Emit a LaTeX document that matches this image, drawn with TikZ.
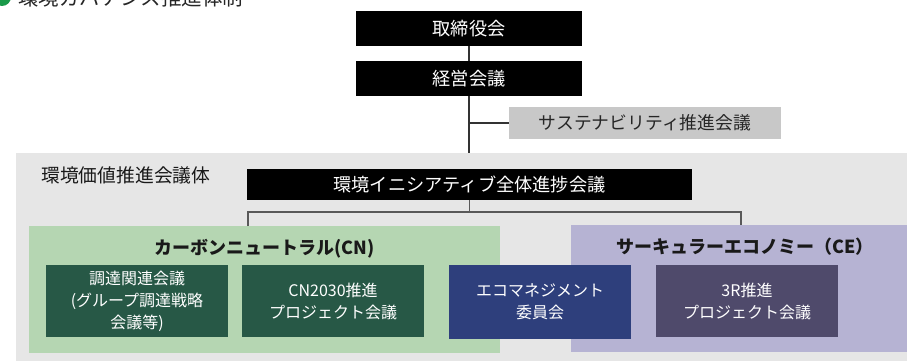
\documentclass[tikz,border=0pt]{standalone}
\usepackage{fontspec}
\setmainfont{Noto Sans CJK JP}
\begin{document}
\begin{tikzpicture}[x=1pt,y=-1pt,
  blackbox/.style={fill=black,text=white,inner sep=0pt,minimum height=35pt,minimum width=226pt,font=\fontsize{18.2}{20}\selectfont},
  innerbox/.style={inner sep=0pt,text=white,minimum width=182pt,minimum height=72pt,align=center,font=\fontsize{16}{22}\selectfont},
  region/.style={inner sep=0pt},
  conn/.style={draw=black!80,line width=1.3pt},
  bracket/.style={draw=black!65,line width=1.6pt},
  grouptitle/.style={text=black!90,font=\fontsize{18}{20}\selectfont\bfseries,inner sep=0pt}
]
\definecolor{bggray}{HTML}{E6E6E6}
\definecolor{susgray}{HTML}{C8C8C8}
\definecolor{cngreen}{HTML}{B5D6B2}
\definecolor{cepurple}{HTML}{B6B3D3}
\definecolor{dkgreen}{HTML}{275846}
\definecolor{navy}{HTML}{2E3F7C}
\definecolor{dkpurple}{HTML}{4F4A6B}
\definecolor{icongreen}{HTML}{1A9A4A}
\useasboundingbox (0,0) rectangle (907,361);
\clip (0,0) rectangle (907,361);
% title (clipped at top, as in the reference)
\fill[icongreen] (2,-3) circle (9);
\node[anchor=base west,inner sep=0pt,text=black!85,font=\fontsize{20.5}{22}\selectfont] (title) at (18,5.5) {環境ガバナンス推進体制};
% background regions
\node[region,fill=bggray,minimum width=891pt,minimum height=208pt] (env) at (461.5,257) {};
\node[region,fill=cngreen,minimum width=471pt,minimum height=127pt] (cn) at (264.5,289.5) {};
\node[region,fill=cepurple,minimum width=336pt,minimum height=127pt] (ce) at (739,288.5) {};
% top nodes
\node[blackbox] (board) at (469,28.5) {取締役会};
\node[blackbox] (mgmt) at (469,78.5) {経営会議};
\node[inner sep=0pt,fill=susgray,text=black!85,minimum width=272pt,minimum height=32pt,font=\fontsize{17.8}{20}\selectfont] (sus) at (645,123) {サステナビリティ推進会議};
\coordinate (envtop) at (469,153);
\coordinate (susj) at (469,123);
\draw[conn] (board.south) -- (mgmt.north);
\draw[conn] (mgmt.south) -- (envtop);
\draw[conn] (susj) -- (sus.west);
% environment value body
\node[anchor=west,inner sep=0pt,text=black!90,font=\fontsize{18.8}{20}\selectfont] (envlabel) at (41,175) {環境価値推進会議体};
\node[blackbox,minimum width=445pt,minimum height=31pt] (init) at (469.5,184.5) {環境イニシアティブ全体進捗会議};
\coordinate (bl) at (248,212);
\coordinate (br) at (741,212);
\coordinate (bm) at (469.5,212);
\coordinate (blf) at (248,226);
\coordinate (brf) at (741,225);
\draw[bracket] (init.south) -- (bm);
\draw[bracket] (blf) -- (bl) -- (br) -- (brf);
% group titles
\node[grouptitle] (cntitle) at (264.5,249) {カーボンニュートラル(CN)};
\node[grouptitle] (cetitle) at (745,247) {サーキュラーエコノミー（CE）};
% inner boxes
\node[innerbox,fill=dkgreen] (g1) at (137,301) {調達関連会議\\(グループ調達戦略\\会議等)};
\node[innerbox,fill=dkgreen] (g2) at (333,301) {CN2030推進\\プロジェクト会議};
\node[innerbox,fill=navy,minimum height=74pt] (eco) at (540,302) {エコマネジメント\\委員会};
\node[innerbox,fill=dkpurple] (r3) at (747,301) {3R推進\\プロジェクト会議};
\end{tikzpicture}
\end{document}
